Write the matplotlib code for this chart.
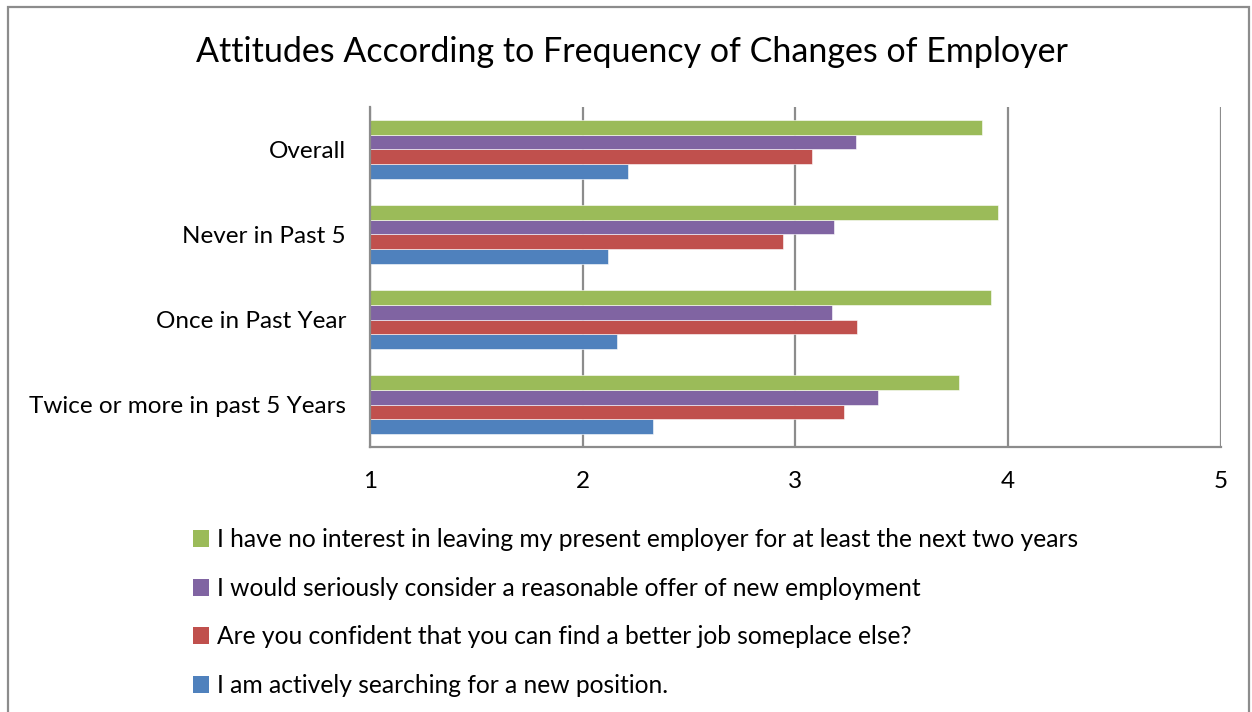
import numpy as np
import matplotlib
matplotlib.use("Agg")
import matplotlib.pyplot as plt
from matplotlib.patches import Rectangle

# data (bottom to top)
categories = ["Twice or more in past 5 Years", "Once in Past Year",
              "Never in Past 5", "Overall"]
searching = [2.33, 2.16, 2.12, 2.215]
confident = [3.23, 3.29, 2.94, 3.08]
consider = [3.39, 3.17, 3.18, 3.286]
no_interest = [3.77, 3.92, 3.95, 3.875]

series = [
    ("I am actively searching for a new position.", searching, "#4F81BD"),
    ("Are you confident that you can find a better job someplace else?", confident, "#C0504D"),
    ("I would seriously consider a reasonable offer of new employment", consider, "#8064A2"),
    ("I have no interest in leaving my present employer for at least the next two years", no_interest, "#9BBB59"),
]

plt.rcParams['font.family'] = ['Lato', 'DejaVu Sans']

fig = plt.figure(figsize=(12.52, 7.12), dpi=100)
ax = fig.add_axes([0.2953, 0.3718, 0.6799, 0.4783])

y = np.arange(len(categories))
h = 0.172
for i, (label, vals, color) in enumerate(series):
    offset = (i - 1.5) * h
    # bars grow from the axis minimum (1)
    ax.barh(y + offset, np.array(vals) - 1, left=1, height=h,
            color=color, edgecolor="white", linewidth=0.4, label=label)

ax.set_xlim(1, 5)
ax.set_ylim(-0.5, 3.5)
ax.set_xticks([1, 2, 3, 4, 5])
ax.set_xticklabels(["1", "2", "3", "4", "5"])
ax.set_yticks(y)
ax.set_yticklabels(categories)
ax.tick_params(axis="both", length=0, labelsize=17.5, colors="black")
ax.tick_params(axis="x", pad=17)
ax.tick_params(axis="y", pad=17)

ax.xaxis.grid(True, color="#8c8c8c", linewidth=1.6)
ax.set_axisbelow(True)
for s in ["top", "right"]:
    ax.spines[s].set_visible(False)
ax.spines["left"].set_color("#8c8c8c")
ax.spines["left"].set_linewidth(1.6)
ax.spines["bottom"].set_color("#8c8c8c")
ax.spines["bottom"].set_linewidth(1.6)

fig.text(0.505, 0.927, "Attitudes According to Frequency of Changes of Employer",
         ha="center", va="center", fontsize=24.5)

# legend patches without the thin white bar edge
leg_handles = [Rectangle((0, 0), 1, 1, facecolor=c, edgecolor="none")
               for _, _, c in series[::-1]]
leg_labels = [lab for lab, _, _ in series[::-1]]
fig.legend(leg_handles, leg_labels, loc="upper left",
           bbox_to_anchor=(0.146, 0.272), frameon=False, fontsize=17.7,
           handlelength=0.68, handleheight=0.68, handletextpad=0.3,
           labelspacing=1.04, borderaxespad=0)

# outer chart border
fig.patches.append(Rectangle((8 / 1252, -0.05), 1241 / 1252, 1.05 - 7 / 712,
                             transform=fig.transFigure, fill=False,
                             edgecolor="#8c8c8c", linewidth=1.6))

fig.savefig("out.png", dpi=100)
